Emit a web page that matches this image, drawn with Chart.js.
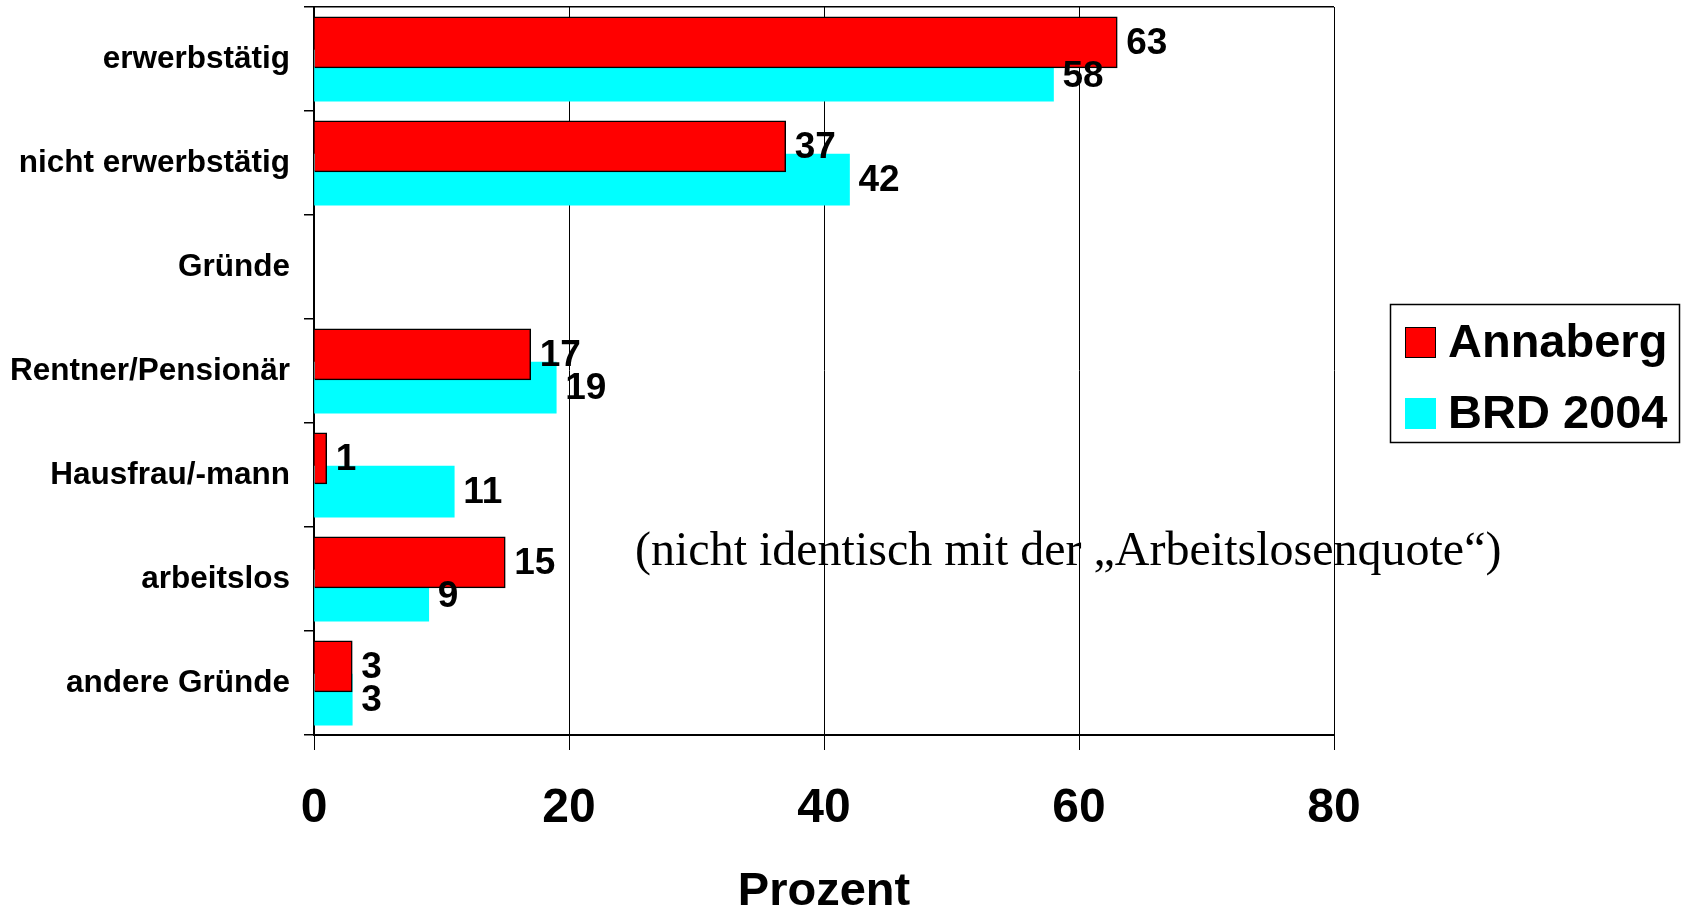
<!DOCTYPE html>
<html>
<head>
  <meta charset="UTF-8">
  <title>Erwerbstätigkeit Annaberg / BRD 2004</title>
  <script src="https://cdn.jsdelivr.net/npm/chart.js"></script>
  <style>
    body {
      margin: 0;
      padding: 0;
      background-color: #ffffff;
    }
    canvas {
      display: block;
    }
  </style>
</head>
<body>

<canvas id="chart" width="1682" height="916"></canvas>

<script>
  // Daten
  const categories = ['erwerbstätig', 'nicht erwerbstätig', 'Gründe', 'Rentner/Pensionär', 'Hausfrau/-mann', 'arbeitslos', 'andere Gründe'];
  const annaberg = [63, 37, null, 17, 1, 15, 3];
  const brd2004 = [58, 42, null, 19, 11, 9, 3];
  const xTicks = [0, 20, 40, 60, 80];
  const seriesNames = ['Annaberg', 'BRD 2004'];
  const note = '(nicht identisch mit der \u201EArbeitslosenquote\u201C)';

  const sans = "'Liberation Sans', Arial, sans-serif";
  const serif = "'Liberation Serif', 'Times New Roman', serif";

  // Balken je Kategorie leicht versetzt (überlappend), leere Werte auslassen
  function toPoints(values, shift) {
    const pts = [];
    values.forEach(function (v, i) {
      if (v !== null) pts.push({ x: v, y: i + shift, label: v });
    });
    return pts;
  }

  // Wertbeschriftung rechts neben den Balken
  const valueLabels = {
    id: 'valueLabels',
    afterDatasetsDraw(chart) {
      const ctx = chart.ctx;
      ctx.save();
      ctx.font = 'bold 37px ' + sans;
      ctx.fillStyle = '#000';
      ctx.textAlign = 'left';
      ctx.textBaseline = 'middle';
      chart.data.datasets.forEach(function (ds, di) {
        const meta = chart.getDatasetMeta(di);
        meta.data.forEach(function (bar, i) {
          ctx.fillText(String(ds.data[i].label), bar.x + 9, bar.y + 1);
        });
      });
      ctx.restore();
    }
  };

  // Legende mit Rahmen und Hinweistext
  const boxLegend = {
    id: 'boxLegend',
    afterDraw(chart) {
      const ctx = chart.ctx;
      ctx.save();
      ctx.strokeStyle = '#000';
      ctx.lineWidth = 1.5;
      ctx.strokeRect(1390.5, 304.5, 289, 138);

      ctx.font = 'bold 47px ' + sans;
      ctx.textBaseline = 'middle';
      ctx.textAlign = 'left';
      const rows = [327, 398];
      chart.data.datasets.forEach(function (ds, i) {
        ctx.fillStyle = ds.backgroundColor;
        ctx.fillRect(1405, rows[i], 31, 31);
        if (ds.borderWidth) {
          ctx.lineWidth = 1;
          ctx.strokeRect(1405.5, rows[i] + 0.5, 30, 30);
        }
        ctx.fillStyle = '#000';
        ctx.fillText(ds.label, 1448, rows[i] + 17);
      });

      ctx.font = '48px ' + serif;
      ctx.textBaseline = 'alphabetic';
      ctx.fillText(note, 635, 565);
      ctx.restore();
    }
  };

  new Chart(document.getElementById('chart').getContext('2d'), {
    type: 'bar',
    data: {
      datasets: [{
        label: seriesNames[0],
        data: toPoints(annaberg, -0.16),
        backgroundColor: '#ff0000',
        borderColor: '#000000',
        borderWidth: 1.5
      }, {
        label: seriesNames[1],
        data: toPoints(brd2004, 0.16),
        backgroundColor: '#00ffff',
        borderWidth: 0
      }]
    },
    options: {
      indexAxis: 'y',
      responsive: false,
      animation: false,
      grouped: false,
      barThickness: 51,
      layout: {
        padding: { top: 7, right: 348, bottom: 0, left: 0 }
      },
      plugins: {
        legend: { display: false },
        tooltip: { enabled: false }
      },
      scales: {
        x: {
          type: 'linear',
          min: 0,
          max: 80,
          afterBuildTicks: function (axis) {
            axis.ticks = xTicks.map(function (v) { return { value: v }; });
          },
          afterFit: function (axis) {
            axis.height = 181;
            axis.paddingLeft = 0;
            axis.paddingRight = 0;
          },
          grid: {
            color: '#000',
            lineWidth: 1,
            tickColor: '#000',
            tickLength: 15
          },
          border: { display: true, color: '#000', width: 2 },
          ticks: {
            color: '#000',
            padding: 30,
            font: { family: sans, size: 48, weight: 'bold' }
          },
          title: {
            display: true,
            text: 'Prozent',
            color: '#000',
            padding: { top: 0, bottom: 0 },
            font: { family: sans, size: 47, weight: 'bold', lineHeight: 1 }
          }
        },
        y: {
          type: 'linear',
          reverse: true,
          offset: false,
          min: -0.5,
          max: categories.length - 0.5,
          afterBuildTicks: function (axis) {
            const t = [];
            for (let i = 0; i <= categories.length * 2; i++) {
              t.push({ value: -0.5 + i * 0.5 });
            }
            axis.ticks = t;
          },
          afterFit: function (axis) {
            axis.width = 314;
            axis.paddingTop = 0;
            axis.paddingBottom = 0;
          },
          grid: {
            offset: false,
            color: function (c) {
              return c.tick && c.tick.value === -0.5 ? '#000' : 'rgba(0,0,0,0)';
            },
            tickColor: function (c) {
              return c.tick && Number.isInteger(c.tick.value) ? 'rgba(0,0,0,0)' : '#000';
            },
            lineWidth: 1.5,
            tickLength: 10
          },
          border: { display: true, color: '#000', width: 2 },
          ticks: {
            autoSkip: false,
            color: '#000',
            padding: 14,
            font: { family: sans, size: 31.5, weight: 'bold' },
            callback: function (value) {
              return Number.isInteger(value) ? categories[value] : '';
            }
          }
        }
      }
    },
    plugins: [valueLabels, boxLegend]
  });
</script>

</body>
</html>
